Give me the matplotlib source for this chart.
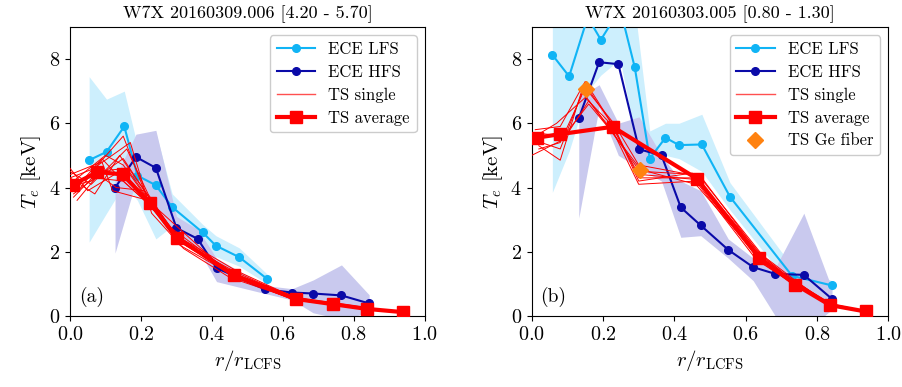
import matplotlib
matplotlib.use("Agg")
import matplotlib.pyplot as plt
from matplotlib.lines import Line2D

plt.rcParams['font.family'] = 'serif'
plt.rcParams['font.serif'] = ['cmr10']
plt.rcParams['mathtext.fontset'] = 'cm'
plt.rcParams['axes.formatter.use_mathtext'] = True
plt.rcParams['font.size'] = 14
plt.rcParams['xtick.labelsize'] = 14.5
plt.rcParams['ytick.labelsize'] = 14.5

# ---- panel (a): W7X 20160309.006 ----
a_lfs_r = [0.054, 0.103, 0.153, 0.19, 0.242, 0.288, 0.374, 0.411, 0.477, 0.556]
a_lfs_te = [4.85, 5.11, 5.90, 4.37, 4.07, 3.39, 2.60, 2.19, 1.83, 1.15]
a_lfs_hi = [7.45, 6.75, 7.0, 5.3, 5.7, 3.8, 2.85, 2.5, 2.12, 1.3]
a_lfs_lo = [2.3, 3.2, 4.1, 3.6, 2.4, 2.8, 2.35, 1.85, 1.55, 1.0]

a_hfs_r = [0.127, 0.186, 0.242, 0.30, 0.36, 0.413, 0.549, 0.626, 0.685, 0.765, 0.843]
a_hfs_te = [3.99, 4.95, 4.61, 2.74, 2.40, 1.49, 0.83, 0.73, 0.70, 0.64, 0.39]
a_hfs_hi = [4.3, 5.66, 5.78, 3.1, 2.7, 1.8, 0.95, 0.85, 1.12, 1.59, 0.66]
a_hfs_lo = [1.96, 4.2, 3.4, 2.4, 2.1, 1.07, 0.7, 0.5, 0.1, -0.1, 0.1]

a_avg_r = [0.009, 0.077, 0.148, 0.225, 0.302, 0.462, 0.637, 0.74, 0.837, 0.938]
a_avg_te = [4.09, 4.48, 4.41, 3.52, 2.43, 1.28, 0.53, 0.37, 0.22, 0.12]

a_single_r = [
    [0.00, 0.07, 0.15, 0.22, 0.30, 0.46, 0.64, 0.74, 0.84, 0.94],
    [0.01, 0.09, 0.14, 0.23, 0.31, 0.47, 0.63, 0.75, 0.83, 0.94],
    [0.00, 0.06, 0.16, 0.22, 0.29, 0.45, 0.64, 0.74, 0.84, 0.93],
    [0.02, 0.08, 0.13, 0.21, 0.30, 0.46, 0.65, 0.73, 0.84, 0.94],
    [0.01, 0.10, 0.15, 0.24, 0.31, 0.46, 0.63, 0.75, 0.83, 0.95],
    [0.00, 0.05, 0.14, 0.22, 0.30, 0.47, 0.64, 0.74, 0.84, 0.94],
    [0.03, 0.08, 0.17, 0.23, 0.32, 0.45, 0.64, 0.74, 0.85, 0.94],
    [0.01, 0.07, 0.15, 0.20, 0.29, 0.46, 0.64, 0.75, 0.84, 0.93],
    [0.00, 0.09, 0.12, 0.22, 0.30, 0.46, 0.63, 0.74, 0.83, 0.94],
    [0.02, 0.06, 0.15, 0.24, 0.31, 0.47, 0.64, 0.73, 0.84, 0.94],
    [0.01, 0.08, 0.16, 0.23, 0.30, 0.45, 0.65, 0.74, 0.84, 0.95],
    [0.00, 0.07, 0.14, 0.21, 0.30, 0.46, 0.64, 0.74, 0.84, 0.94],
]
a_single_te = [
    [4.3, 4.6, 5.6, 3.6, 2.4, 1.30, 0.52, 0.38, 0.22, 0.11],
    [3.9, 4.9, 4.3, 3.4, 2.2, 1.20, 0.50, 0.36, 0.20, 0.10],
    [4.5, 4.1, 5.2, 3.8, 2.6, 1.35, 0.55, 0.40, 0.24, 0.12],
    [3.6, 4.4, 4.0, 3.9, 2.5, 1.25, 0.50, 0.37, 0.21, 0.11],
    [4.2, 5.0, 4.7, 3.3, 2.3, 1.30, 0.53, 0.39, 0.23, 0.12],
    [4.6, 3.9, 4.5, 3.5, 2.5, 1.40, 0.54, 0.38, 0.20, 0.10],
    [4.0, 4.7, 5.4, 3.2, 2.1, 1.20, 0.49, 0.35, 0.19, 0.10],
    [3.8, 4.3, 4.2, 3.7, 2.7, 1.30, 0.56, 0.40, 0.25, 0.13],
    [4.4, 4.8, 3.9, 3.6, 2.4, 1.25, 0.51, 0.36, 0.21, 0.11],
    [4.1, 4.2, 4.9, 3.4, 2.3, 1.35, 0.52, 0.38, 0.22, 0.12],
    [3.7, 4.5, 4.6, 3.5, 2.8, 1.30, 0.55, 0.37, 0.23, 0.11],
    [4.3, 3.8, 5.0, 3.9, 2.5, 1.20, 0.50, 0.36, 0.21, 0.12],
]

# ---- panel (b): W7X 20160303.005 ----
b_lfs_r = [0.058, 0.105, 0.157, 0.194, 0.248, 0.289, 0.331, 0.375, 0.413, 0.477, 0.556, 0.73, 0.842]
b_lfs_te = [8.13, 7.46, 9.3, 8.60, 9.56, 7.74, 4.90, 5.55, 5.32, 5.34, 3.71, 1.25, 0.95]
b_lfs_hi = [9.8, 9.8, 9.9, 9.9, 10.0, 9.6, 5.76, 6.0, 6.0, 6.28, 4.15, 1.55, 1.1]
b_lfs_lo = [3.85, 5.13, 7.0, 7.5, 8.0, 5.6, 4.7, 5.0, 4.9, 4.5, 3.3, 0.9, 0.8]

b_hfs_r = [0.132, 0.189, 0.243, 0.301, 0.364, 0.418, 0.474, 0.551, 0.621, 0.683, 0.763, 0.842]
b_hfs_te = [6.15, 7.90, 7.84, 5.19, 5.00, 3.38, 2.82, 2.06, 1.52, 1.31, 1.28, 0.53]
b_hfs_hi = [6.8, 7.2, 6.0, 6.2, 5.0, 4.2, 3.9, 2.4, 1.8, 1.5, 3.2, 0.85]
b_hfs_lo = [3.05, 6.5, 5.0, 4.6, 4.2, 2.45, 2.5, 1.8, 1.1, 0.0, -0.5, 0.2]

b_avg_r = [0.014, 0.079, 0.227, 0.464, 0.638, 0.739, 0.836, 0.936]
b_avg_te = [5.55, 5.66, 5.89, 4.27, 1.82, 0.98, 0.34, 0.14]

b_ge_r = [0.152, 0.305]
b_ge_te = [7.06, 4.54]

b_single_r = [
    [0.01, 0.08, 0.15, 0.23, 0.30, 0.46, 0.64, 0.74, 0.84, 0.94],
    [0.00, 0.09, 0.16, 0.22, 0.31, 0.47, 0.64, 0.74, 0.84, 0.94],
    [0.02, 0.08, 0.14, 0.23, 0.30, 0.46, 0.63, 0.74, 0.84, 0.94],
    [0.01, 0.07, 0.15, 0.22, 0.29, 0.46, 0.64, 0.75, 0.84, 0.94],
    [0.00, 0.08, 0.15, 0.23, 0.30, 0.45, 0.64, 0.74, 0.83, 0.94],
    [0.01, 0.09, 0.16, 0.22, 0.31, 0.46, 0.64, 0.74, 0.84, 0.93],
    [0.02, 0.08, 0.15, 0.23, 0.30, 0.47, 0.65, 0.74, 0.84, 0.94],
]
b_single_te = [
    [5.8, 5.9, 7.3, 5.9, 4.3, 4.30, 1.85, 1.00, 0.36, 0.14],
    [5.0, 5.5, 6.7, 5.8, 4.5, 4.40, 1.90, 1.05, 0.38, 0.14],
    [5.3, 4.85, 7.0, 5.7, 4.1, 4.20, 1.75, 0.95, 0.33, 0.13],
    [5.6, 6.0, 6.8, 6.0, 4.6, 4.10, 1.80, 1.00, 0.35, 0.15],
    [5.5, 5.2, 7.2, 5.9, 4.2, 4.45, 1.95, 1.10, 0.37, 0.14],
    [5.7, 5.6, 6.6, 5.8, 4.4, 4.25, 1.70, 0.95, 0.34, 0.13],
    [5.2, 5.4, 7.1, 6.0, 4.7, 4.35, 1.85, 1.00, 0.36, 0.14],
]

c_lfs = '#10b4f5'
c_hfs = '#0a0aa8'
c_lfs_band = '#cdeffd'
c_hfs_band = '#c9c9ee'
c_ge = '#ff8210'

fig = plt.figure(figsize=(9.03, 3.87), dpi=100)
ax1 = fig.add_axes([0.0775, 0.1835, 0.393, 0.747])
ax2 = fig.add_axes([0.5888, 0.1835, 0.395, 0.747])


def draw_panel(ax, lfs, hfs, avg, singles, title, tag, ge=None):
    ax.fill_between(lfs[0], lfs[3], lfs[2], color=c_lfs_band, lw=0, zorder=1)
    ax.fill_between(hfs[0], hfs[3], hfs[2], color=c_hfs_band, lw=0, zorder=1)
    ax.plot(lfs[0], lfs[1], '-o', color=c_lfs, lw=1.5, ms=5.5, zorder=3)
    ax.plot(hfs[0], hfs[1], '-o', color=c_hfs, lw=1.5, ms=5.5, zorder=3)
    for r, te in zip(singles[0], singles[1]):
        ax.plot(r, te, '-', color='red', lw=0.7, zorder=4)
    ax.plot(avg[0], avg[1], '-s', color='red', lw=3, ms=8, zorder=5)
    handles = [
        Line2D([], [], color=c_lfs, lw=1.5, marker='o', ms=5.5),
        Line2D([], [], color=c_hfs, lw=1.5, marker='o', ms=5.5),
        Line2D([], [], color='#ff5050', lw=1.0),
        Line2D([], [], color='red', lw=3, marker='s', ms=8),
    ]
    labels = ['ECE LFS', 'ECE HFS', 'TS single', 'TS average']
    if ge is not None:
        ax.plot(ge[0], ge[1], 'D', color=c_ge, ms=8, ls='none', zorder=6)
        handles.append(Line2D([], [], color=c_ge, marker='D', ms=8, ls='none'))
        labels.append('TS Ge fiber')
    ax.set_xlim(0, 1)
    ax.set_ylim(0, 9)
    ax.set_xticks([0.0, 0.2, 0.4, 0.6, 0.8, 1.0])
    ax.set_yticks([0, 2, 4, 6, 8])
    ax.set_xlabel(r'$r/r_\mathrm{LCFS}$', fontsize=15, labelpad=3)
    ax.set_ylabel(r'$T_e$ [keV]', fontsize=15, labelpad=4)
    ax.set_title(title, fontsize=13, pad=6)
    ax.text(0.025, 0.03, tag, transform=ax.transAxes, fontsize=14, va='bottom', ha='left')
    ax.legend(handles, labels, loc='upper right', fontsize=12, framealpha=1,
              edgecolor='#cccccc', handlelength=2.3, borderaxespad=0.5,
              labelspacing=0.45)


draw_panel(ax1, (a_lfs_r, a_lfs_te, a_lfs_hi, a_lfs_lo),
           (a_hfs_r, a_hfs_te, a_hfs_hi, a_hfs_lo),
           (a_avg_r, a_avg_te), (a_single_r, a_single_te),
           'W7X 20160309.006 [4.20 - 5.70]', '(a)')
draw_panel(ax2, (b_lfs_r, b_lfs_te, b_lfs_hi, b_lfs_lo),
           (b_hfs_r, b_hfs_te, b_hfs_hi, b_hfs_lo),
           (b_avg_r, b_avg_te), (b_single_r, b_single_te),
           'W7X 20160303.005 [0.80 - 1.30]', '(b)', ge=(b_ge_r, b_ge_te))

fig.savefig('out.png', dpi=100)
